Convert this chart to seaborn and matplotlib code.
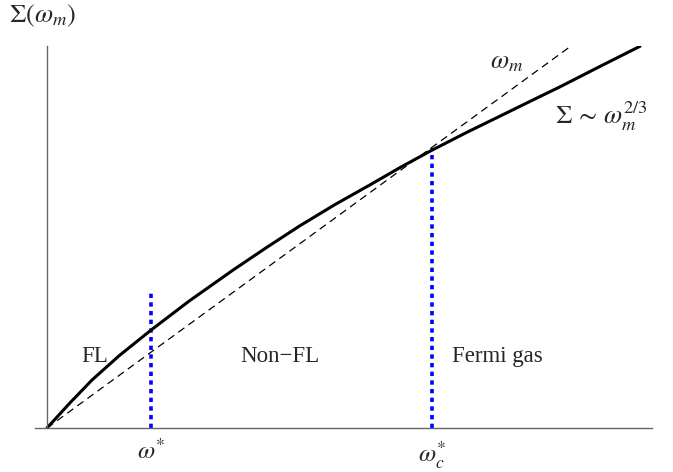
import matplotlib
matplotlib.use("Agg")
import matplotlib.pyplot as plt
import seaborn as sns
import pandas as pd

# Self-energy curve Sigma(omega_m), in units where the bare line is y = x
omega = [0.0, 0.12, 0.23, 0.45, 0.72, 1.04, 1.42, 1.86, 2.20, 2.53,
         2.88, 3.23, 3.54, 3.85, 4.19, 4.53, 4.83, 5.13, 5.53, 5.93]
sigma = [0.0, 0.18, 0.345, 0.658, 0.99, 1.343, 1.74, 2.166, 2.48, 2.775,
         3.065, 3.335, 3.58, 3.811, 4.05, 4.278, 4.48, 4.68, 4.96, 5.236]

# Bare linear term omega_m
bare_x = [0.0, 5.25]
bare_y = [0.0, 5.25]

# Crossover scales and heights of their markers
cross_x = [1.04, 3.85]
cross_top = [1.864, 3.838]
cross_labels = [r"$\omega^{*}$", r"$\omega_c^{*}$"]

sns.set_theme(style="white")
plt.rcParams["font.family"] = ["Liberation Serif", "DejaVu Serif"]
plt.rcParams["mathtext.fontset"] = "stix"

fig = plt.figure(figsize=(6.73, 4.72), dpi=100)
ax = fig.add_axes([35 / 673, 44 / 472, 617 / 673, 382 / 472])

curve = pd.DataFrame({"omega": omega, "sigma": sigma})
bare = pd.DataFrame({"omega": bare_x, "sigma": bare_y})

sns.lineplot(data=bare, x="omega", y="sigma", ax=ax, color="black",
             linewidth=0.9, linestyle=(0, (6, 4)))
sns.lineplot(data=curve, x="omega", y="sigma", ax=ax, color="black",
             linewidth=2.2)

for xc, yt in zip(cross_x, cross_top):
    ax.plot([xc, xc], [0, yt], color="#0000ff", linewidth=2.6,
            linestyle=(0, (1.2, 1.2)), zorder=1)

ax.set_xlim(-0.12, 6.05)
ax.set_ylim(0, 5.24)

for s in ["top", "right"]:
    ax.spines[s].set_visible(False)
ax.spines["left"].set_position(("data", 0))
for s in ["left", "bottom"]:
    ax.spines[s].set_color("#666666")
    ax.spines[s].set_linewidth(1.0)

ax.set_xticks(cross_x)
ax.set_xticklabels(cross_labels, fontsize=18)
ax.set_yticks([])
ax.tick_params(axis="x", length=0, pad=8)
ax.set_xlabel("")
ax.set_ylabel("")

fig.text(9 / 673, 1 - 16 / 472, r"$\Sigma(\omega_m)$", fontsize=19,
         ha="left", va="center")

ax.text(0.48, 0.98, "FL", fontsize=16.5, ha="center", va="center")
ax.text(2.33, 0.98, "Non\u2212FL", fontsize=16.5, ha="center", va="center")
ax.text(4.50, 0.98, "Fermi gas", fontsize=16.5, ha="center", va="center")
ax.text(4.60, 5.01, r"$\omega_m$", fontsize=19, ha="center", va="center")
ax.text(5.08, 4.28, r"$\Sigma\,\sim\,\omega_m^{2/3}$", fontsize=19,
        ha="left", va="center")

fig.savefig("out.png", dpi=100, facecolor="white")
